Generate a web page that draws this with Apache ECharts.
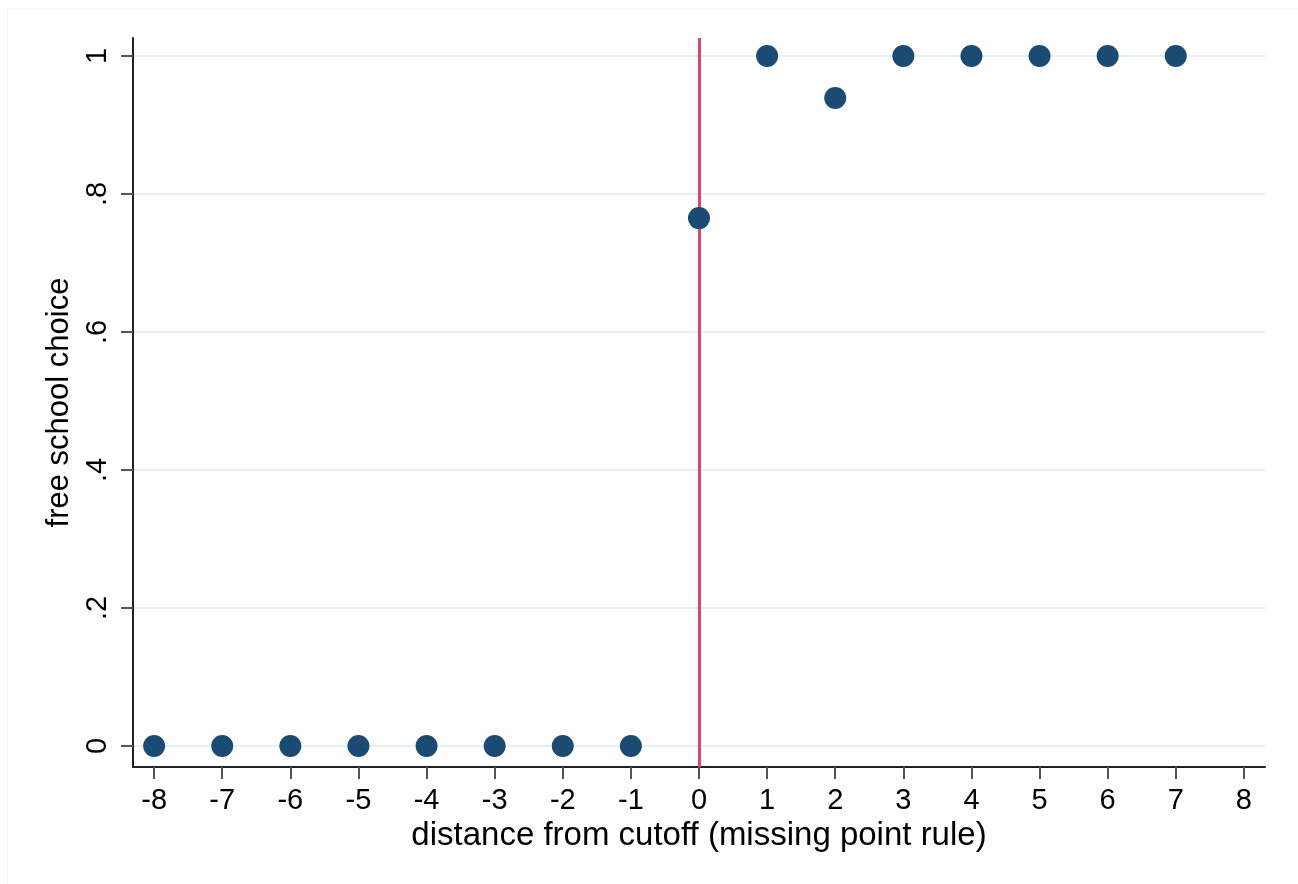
<!DOCTYPE html>
<html>
<head>
<meta charset="utf-8">
<script src="https://cdn.jsdelivr.net/npm/echarts@6/dist/echarts.min.js"></script>
<style>html,body{margin:0;padding:0;background:#fff;}#c{width:1298px;height:884px;}</style>
</head>
<body>
<div id="c"></div>
<script>
var distance = [-8,-7,-6,-5,-4,-3,-2,-1,0,1,2,3,4,5,6,7];
var freeChoice = [0,0,0,0,0,0,0,0,0.765,1,0.939,1,1,1,1,1];
var xTicks = [-8,-7,-6,-5,-4,-3,-2,-1,0,1,2,3,4,5,6,7,8];
var yTicks = [0,0.2,0.4,0.6,0.8,1];
var yTickLabels = ['0','.2','.4','.6','.8','1'];
var cutoff = 0;

var pts = distance.map(function(d,i){return [d, freeChoice[i]];});
var font = 'Arial, "Liberation Sans", sans-serif';
var chart = echarts.init(document.getElementById('c'));
chart.setOption({
  animation:false,
  backgroundColor:'#ffffff',
  graphic:[{type:'rect', left:5, top:6, shape:{width:1292, height:880}, style:{fill:'none', stroke:'#f2f4f5', lineWidth:1}, silent:true}],
  grid:{left:133, right:33, top:38, bottom:117, containLabel:false},
  xAxis:{
    type:'value', min:-8.31, max:8.31,
    name:'distance from cutoff (missing point rule)', nameLocation:'middle', nameGap:49,
    nameTextStyle:{fontFamily:font, fontSize:33, color:'#000'},
    axisLine:{show:true, onZero:false, lineStyle:{color:'#222', width:2}},
    axisTick:{show:true, length:12, lineStyle:{color:'#555', width:2}, customValues:xTicks},
    axisLabel:{fontFamily:font, fontSize:29, color:'#000', margin:19, customValues:xTicks, formatter:function(v){return String(v);}},
    splitLine:{show:false}
  },
  yAxis:{
    type:'value', min:-0.0304, max:1.026,
    name:'free school choice', nameLocation:'middle', nameGap:54, nameRotate:90,
    nameTextStyle:{fontFamily:font, fontSize:31, color:'#000'},
    axisLine:{show:true, onZero:false, lineStyle:{color:'#222', width:2}},
    axisTick:{show:true, length:12, lineStyle:{color:'#555', width:2}, customValues:yTicks},
    axisLabel:{fontFamily:font, fontSize:29, color:'#000', margin:21, rotate:90, customValues:yTicks,
      formatter:function(v){var i=yTicks.findIndex(function(t){return Math.abs(t-v)<1e-6;}); return i>=0?yTickLabels[i]:'';}},
    splitLine:{show:true, lineStyle:{color:'#e8f0f2', width:2}}
  },
  series:[
    {type:'line', data:[], z:1, silent:true,
     markLine:{silent:true, symbol:['none','none'], label:{show:false},
       lineStyle:{color:'#d6486e', width:3, type:'solid'}, data:[{xAxis:cutoff}]}},
    {type:'scatter', data:pts, symbol:'circle', symbolSize:22, z:5,
     itemStyle:{color:'#1b4a72', opacity:1}}
  ]
});
</script>
</body>
</html>
